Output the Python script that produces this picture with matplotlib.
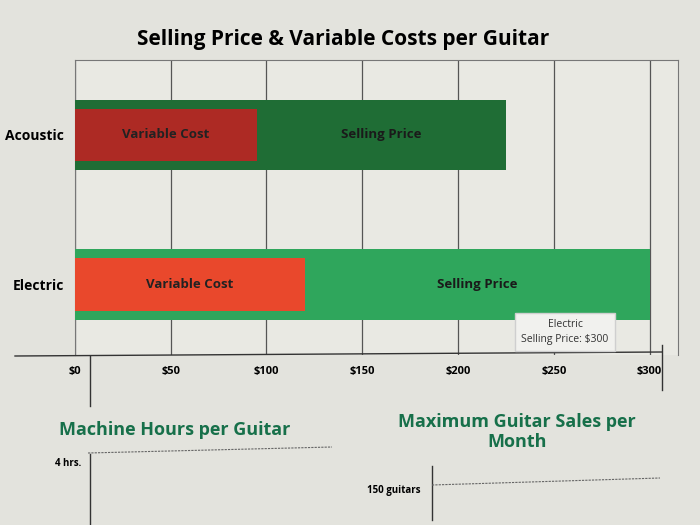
import matplotlib.pyplot as plt
from matplotlib.lines import Line2D

# -------------------------
# Data
# -------------------------
categories = ["Acoustic", "Electric"]
selling_price = [225, 300]
variable_cost = [95, 120]
tick_values = [0, 50, 100, 150, 200, 250, 300]
tick_labels = ["$0", "$50", "$100", "$150", "$200", "$250", "$300"]

machine_hours_label = "4 hrs."
max_sales_label = "150 guitars"

# -------------------------
# Styles
# -------------------------
sell_colors = ["#1f6d35", "#2fa65c"]
cost_colors = ["#ad2a24", "#e9482c"]
title_green = "#17704a"
bg = "#e3e3dd"
pane = "#e9e9e3"

plt.rcParams["font.family"] = ["Open Sans", "DejaVu Sans"]

fig = plt.figure(figsize=(7, 5.25), dpi=100, facecolor=bg)
ax = fig.add_axes([0.107, 0.324, 0.862, 0.562], facecolor=pane)

y = list(range(len(categories)))
ax.barh(y, selling_price, height=0.47, color=sell_colors, zorder=3)
ax.barh(y, variable_cost, height=0.35, color=cost_colors, zorder=4)

for i in y:
    ax.text(variable_cost[i] / 2, i, "Variable Cost", ha="center", va="center",
            fontsize=9.5, fontweight="bold", color="#222222", zorder=5)
    ax.text((variable_cost[i] + selling_price[i]) / 2, i, "Selling Price",
            ha="center", va="center", fontsize=9.5, fontweight="bold",
            color="#1a1a1a", zorder=5)

ax.set_xlim(0, 315)
ax.set_ylim(1.47, -0.5)
ax.set_xticks(tick_values)
ax.set_xticklabels(tick_labels, fontsize=8, fontweight="bold")
ax.set_yticks(y)
ax.set_yticklabels(categories, fontsize=10, fontweight="bold")
ax.tick_params(length=0, pad=8)
ax.grid(axis="x", color="#555555", linewidth=0.9, zorder=1)
for side in ["top", "right", "left"]:
    ax.spines[side].set_color("#777777")
ax.spines["bottom"].set_visible(False)

fig.text(0.49, 0.925, "Selling Price & Variable Costs per Guitar",
         ha="center", va="center", fontsize=15, fontweight="bold")

# pane borders around the axis
fig.add_artist(Line2D([15 / 700, 662 / 700], [1 - 356 / 525, 1 - 352 / 525],
                      color="#333333", linewidth=1))
fig.add_artist(Line2D([90 / 700, 90 / 700], [1 - 356 / 525, 1 - 406 / 525],
                      color="#333333", linewidth=1))
fig.add_artist(Line2D([662 / 700, 662 / 700], [1 - 345 / 525, 1 - 390 / 525],
                      color="#333333", linewidth=1))

# tooltip
fig.text(565 / 700, 1 - 332 / 525, "Electric\nSelling Price: $300",
         ha="center", va="center", fontsize=7.5, color="#333333",
         linespacing=1.4,
         bbox=dict(boxstyle="square,pad=0.6", facecolor="#f1f1ee",
                   edgecolor="#cfcfcf"))
fig.add_artist(Line2D([547 / 700, 583 / 700], [1 - 331 / 525, 1 - 331 / 525],
                      color="#333333", linewidth=0.8))

# lower sheets
fig.text(175 / 700, 1 - 430 / 525, "Machine Hours per Guitar", ha="center",
         va="center", fontsize=13, fontweight="bold", color=title_green)
fig.text(517 / 700, 1 - 432 / 525, "Maximum Guitar Sales per\nMonth",
         ha="center", va="center", fontsize=13, fontweight="bold",
         color=title_green, linespacing=1.1)

fig.text(55 / 700, 1 - 463 / 525, machine_hours_label, ha="left", va="center",
         fontsize=7, fontweight="bold")
fig.add_artist(Line2D([88 / 700, 332 / 700], [1 - 453 / 525, 1 - 447 / 525],
                      color="#666666", linewidth=0.8, linestyle=(0, (2, 1))))
fig.add_artist(Line2D([90 / 700, 90 / 700], [1 - 454 / 525, 0],
                      color="#333333", linewidth=1))

fig.text(367 / 700, 1 - 490 / 525, max_sales_label, ha="left", va="center",
         fontsize=7, fontweight="bold")
fig.add_artist(Line2D([432 / 700, 432 / 700], [1 - 466 / 525, 1 - 520 / 525],
                      color="#333333", linewidth=1))
fig.add_artist(Line2D([432 / 700, 660 / 700], [1 - 485 / 525, 1 - 478 / 525],
                      color="#666666", linewidth=0.8, linestyle=(0, (2, 1))))

fig.savefig("out.png", dpi=100, facecolor=bg)
